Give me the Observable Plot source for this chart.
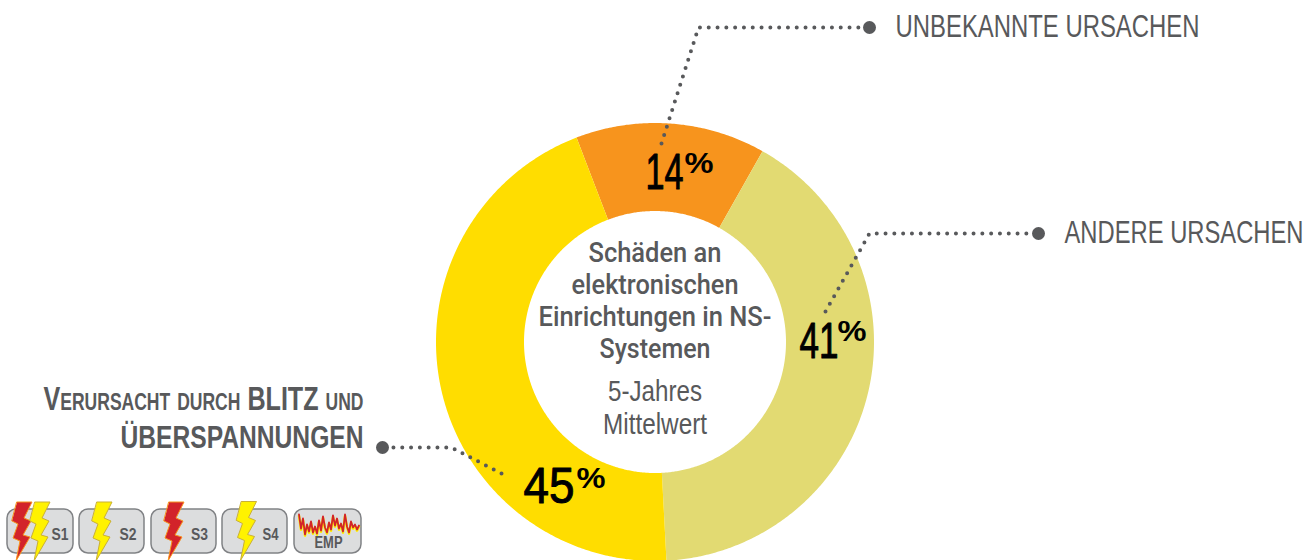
<!DOCTYPE html>
<html lang="de">
<head>
<meta charset="utf-8">
<title>Schäden an elektronischen Einrichtungen</title>
<script src="https://cdn.jsdelivr.net/npm/d3@7"></script>
<script src="https://cdn.jsdelivr.net/npm/@observablehq/plot@0.6"></script>
<style>
  html, body { margin: 0; padding: 0; background: #fff; }
  svg { display: block; }
</style>
</head>
<body>
<div id="chart"></div>
<script>
// Chart values
const causes = ["UNBEKANNTE URSACHEN", "ANDERE URSACHEN", "Verursacht durch BLITZ und"];
const shares = [14, 41, 45];
const sliceColours = ["#f7941d", "#e2da72", "#ffdd00"];
const centreTitle = ["Schäden an", "elektronischen", "Einrichtungen in NS-", "Systemen"];
const centreNote = ["5-Jahres", "Mittelwert"];
const secondLine = "ÜBERSPANNUNGEN";
const classes = ["S1", "S2", "S3", "S4", "EMP"];
const empTrace = [2, 16, 6, 22, 12, 19, 9, 20, 14, 21, 8, 18, 4, 15, 20, 10, 17, 3, 13, 6, 16, 11, 19, 2, 14, 20, 9, 15, 12, 17, 13];

// Page layout
const W = 1316, H = 560;
const ink = "#58595b";
const sans = "'Liberation Sans', sans-serif";
const ring = {cx: 654.5, cy: 341.5, outer: 219, inner: 131, startDeg: -21};

// Set widths that condense the sans faces to the narrow proportions of the labels
const condensed = new Map([
  ["UNBEKANNTE URSACHEN", 304], ["ANDERE URSACHEN", 239], ["Verursacht durch BLITZ und", 320], ["ÜBERSPANNUNGEN", 243],
  ["Schäden an", 133], ["elektronischen", 167], ["Einrichtungen in NS-", 233], ["Systemen", 111],
  ["5-Jahres", 94], ["Mittelwert", 104],
  ["14", 38], ["41", 39], ["45", 51], ["%", 29],
  ["S1", 17], ["S2", 17], ["S3", 17], ["S4", 16], ["EMP", 28]
]);

// Each slice is traced as a closed outline, clockwise from the ring's start angle
const pie = d3.pie().sort(null).startAngle(ring.startDeg * Math.PI / 180).endAngle((ring.startDeg + 360) * Math.PI / 180);
const polar = (r, a) => [ring.cx + r * Math.sin(a), ring.cy - r * Math.cos(a)];
const sliceOutlines = pie(shares).flatMap((arc, i) => {
  const angles = d3.range(arc.startAngle, arc.endAngle, Math.PI / 360).concat(arc.endAngle);
  const pts = [...angles.map((a) => polar(ring.outer, a)), ...angles.reverse().map((a) => polar(ring.inner, a))];
  return pts.map(([x, y]) => ({x, y, slice: causes[i], colour: sliceColours[i]}));
});

// Dotted call-outs, from the slice out to the label bullet
const leaders = [
  {cause: 0, path: [[661, 143], [698, 27], [869, 27]]},
  {cause: 1, path: [[825, 311], [869, 233], [1038, 233]]},
  {cause: 2, path: [[501, 473], [451, 447], [382, 447]]}
];
const leaderPoints = leaders.flatMap((l) => l.path.map(([x, y]) => ({x, y, cause: l.cause})));
const bullets = leaders.map((l) => ({x: l.path[2][0], y: l.path[2][1]}));

// Percentage labels: number plus a raised percent sign
const percentSpots = [[683, 188, 684, 172], [838, 357, 837, 340], [574, 502, 576, 487]];
const percents = shares.map((v, i) => ({
  value: String(v), x: percentSpots[i][0], y: percentSpots[i][1], px: percentSpots[i][2], py: percentSpots[i][3]
}));

// Surge protection class badges
const badgeSpans = [[7, 73], [79, 144], [151, 216], [222, 287], [294, 361]];
const badgeLabelX = [59.5, 127.5, 199, 270, 328];
const badges = classes.map((name, i) => ({
  name, x1: badgeSpans[i][0], x2: badgeSpans[i][1],
  tx: badgeLabelX[i],
  ty: i < 4 ? 539 : 547
}));

const boltShape = [[5, 0], [20, 0], [12, 16], [19, 19], [11, 33], [18, 35], [4, 59], [8, 39], [1, 36], [6, 22], [0, 19]];
const bolts = [
  {id: "a", x: 11.5, y: 501.5, fill: "#d2232a", edge: "#f7941d"},
  {id: "b", x: 29.5, y: 501.5, fill: "#fff200", edge: "#c9b037"},
  {id: "c", x: 91.5, y: 501.5, fill: "#fff200", edge: "#c9b037"},
  {id: "d", x: 163.5, y: 501.5, fill: "#d2232a", edge: "#f7941d"},
  {id: "e", x: 236, y: 501, fill: "#fff200", edge: "#c9b037"}
];
const boltPoints = bolts.flatMap((b) => boltShape.map(([dx, dy]) => ({x: b.x + dx, y: b.y + dy, id: b.id, fill: b.fill, edge: b.edge})));
const tracePoints = empTrace.map((v, i) => ({x: 298.5 + i * 2, y: 512 + v}));

const textOpts = {fontFamily: sans, fill: ink, lineAnchor: "bottom"};

const chart = Plot.plot({
  width: W, height: H, margin: 0,
  x: {domain: [0, W], range: [0, W], axis: null},
  y: {domain: [0, H], range: [0, H], axis: null},
  color: {type: "identity"},
  style: {background: "#fff"},
  marks: [
    // Ring
    Plot.line(sliceOutlines, {x: "x", y: "y", z: "slice", fill: "colour", stroke: "none", curve: "linear-closed"}),

    // Call-outs
    Plot.line(leaderPoints, {x: "x", y: "y", z: "cause", stroke: ink, strokeWidth: 4, strokeDasharray: "0 8.8", strokeLinecap: "round", strokeLinejoin: "round"}),
    Plot.dot(bullets, {x: "x", y: "y", r: 6.5, fill: ink, stroke: "none"}),

    // Percent labels
    Plot.text(percents, {x: "x", y: "y", text: "value", textAnchor: "end", fontFamily: sans, fontSize: 50, fill: "#000", stroke: "#000", strokeWidth: 1, lineAnchor: "bottom"}),
    Plot.text(percents, {x: "px", y: "py", text: () => "%", textAnchor: "start", fontFamily: sans, fontSize: 30, fontWeight: 700, fill: "#000", lineAnchor: "bottom"}),

    // Centre text
    Plot.text(centreTitle, {x: () => ring.cx, y: (d, i) => 261 + i * 32, text: (d) => d, textAnchor: "middle", fontFamily: "Roboto, sans-serif", fontSize: 27, fontWeight: 500, fill: ink, lineAnchor: "bottom"}),
    Plot.text(centreNote, {x: () => ring.cx, y: (d, i) => 400 + i * 33, text: (d) => d, textAnchor: "middle", fontSize: 29, ...textOpts}),

    // Outer labels
    Plot.text([causes[0]], {x: () => 895, y: () => 36, text: (d) => d, textAnchor: "start", fontSize: 31, ...textOpts}),
    Plot.text([causes[1]], {x: () => 1064, y: () => 242, text: (d) => d, textAnchor: "start", fontSize: 31, ...textOpts}),
    Plot.text([causes[2]], {x: () => 363, y: () => 409, text: (d) => d, textAnchor: "end", fontSize: 33, fontWeight: 700, fontVariant: "small-caps", ...textOpts}),
    Plot.text([secondLine], {x: () => 363, y: () => 447, text: (d) => d, textAnchor: "end", fontSize: 31, fontWeight: 700, ...textOpts}),

    // Class badges
    Plot.rect(badges, {x1: "x1", x2: "x2", y1: () => 509, y2: () => 553, rx: 9, fill: "#dcddde", stroke: "#808285", strokeWidth: 1.5}),
    Plot.line(boltPoints, {x: "x", y: "y", z: "id", fill: "fill", stroke: "edge", strokeWidth: 1, curve: "linear-closed"}),
    Plot.line(tracePoints, {x: (d) => d.x, y: (d) => d.y + 1.2, stroke: "#fff200", strokeWidth: 2.5}),
    Plot.line(tracePoints, {x: "x", y: "y", stroke: "#d2232a", strokeWidth: 1.8}),
    Plot.text(badges, {x: "tx", y: "ty", text: "name", textAnchor: "middle", fontSize: 16.5, fontWeight: 700, ...textOpts})
  ]
});

// Squeeze every label to its set width
d3.select(chart).selectAll("text").each(function () {
  const width = condensed.get(this.textContent);
  if (width) d3.select(this).attr("textLength", width).attr("lengthAdjust", "spacingAndGlyphs");
});

document.getElementById("chart").append(chart);
</script>
</body>
</html>
